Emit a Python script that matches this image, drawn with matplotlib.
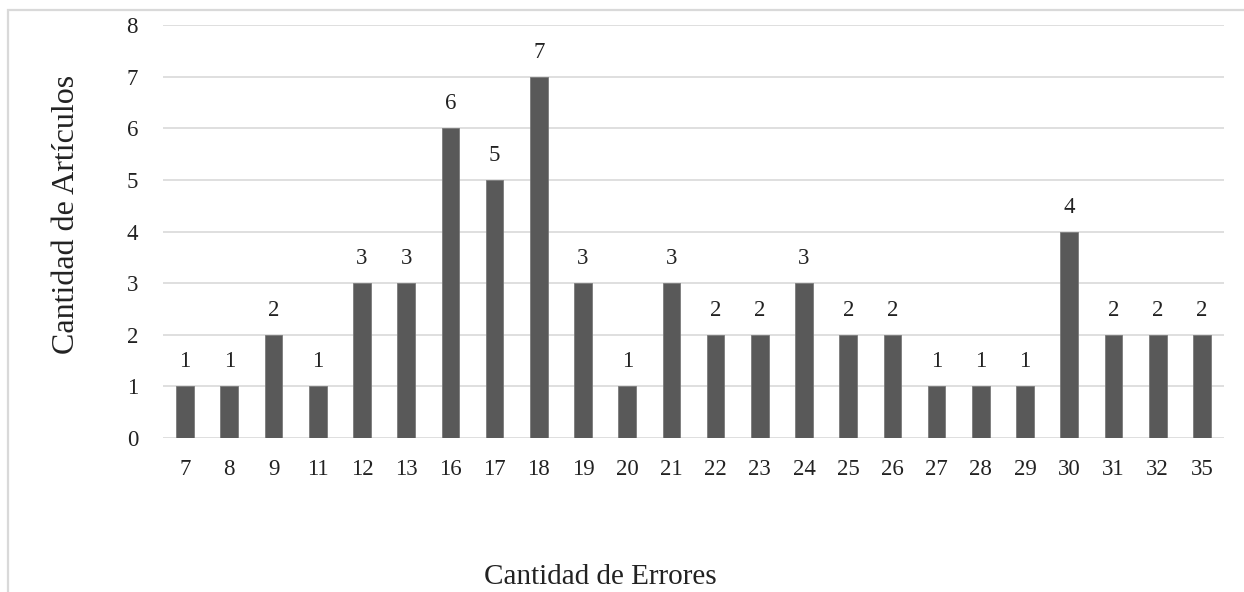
import matplotlib
matplotlib.use("Agg")
import matplotlib.pyplot as plt
from matplotlib.patches import Rectangle

# Number of errors per article and how many articles had that count
errores = ["7", "8", "9", "11", "12", "13", "16", "17", "18", "19", "20", "21",
           "22", "23", "24", "25", "26", "27", "28", "29", "30", "31", "32", "35"]
articulos = [1, 1, 2, 1, 3, 3, 6, 5, 7, 3, 1, 3, 2, 2, 3, 2, 2, 1, 1, 1, 4, 2, 2, 2]
y_ticks = [0, 1, 2, 3, 4, 5, 6, 7, 8]

plt.rcParams["font.family"] = ["Liberation Serif", "DejaVu Serif"]

W, H = 1244, 592
fig = plt.figure(figsize=(W / 100, H / 100), dpi=100)
ax = fig.add_axes([163 / W, 1 - 438 / H, (1224 - 163) / W, (438 - 25) / H])

# Chart frame (continues past the right and bottom edges)
fig.patches.append(Rectangle((8 / W, -0.1), 1.2, 1.1 - 10 / H,
                             transform=fig.transFigure, fill=False,
                             edgecolor="#d9d9d9", linewidth=1.6, zorder=0))

x = list(range(len(errores)))
ax.bar(x, articulos, width=0.4, color="#595959", edgecolor="#7a7a7a",
       linewidth=0.6, zorder=3)

for xi, v in zip(x, articulos):
    ax.annotate(str(v), (xi, v), xytext=(0, 10), textcoords="offset points",
                ha="center", va="bottom", fontsize=16.5, color="#222222")

ax.set_xlim(-0.5, len(errores) - 0.5)
ax.set_ylim(0, 8)
ax.set_yticks(y_ticks)
ax.set_xticks(x)
ax.set_xticklabels(errores)
ax.tick_params(axis="both", length=0, labelsize=16.5, labelcolor="#222222")
ax.tick_params(axis="x", pad=15)
ax.tick_params(axis="y", pad=18)

ax.grid(axis="y", color="#d9d9d9", linewidth=1.2, zorder=0)
ax.set_axisbelow(True)
for s in ax.spines.values():
    s.set_visible(False)

fig.text(600 / W, 1 - 577 / H, "Cantidad de Errores", ha="center", va="center",
         fontsize=21, color="#222222")
fig.text(67 / W, 1 - 214 / H, "Cantidad de Artículos", ha="center", va="center",
         rotation=90, fontsize=23, color="#222222")

fig.savefig("out.png", dpi=100, facecolor="white")
